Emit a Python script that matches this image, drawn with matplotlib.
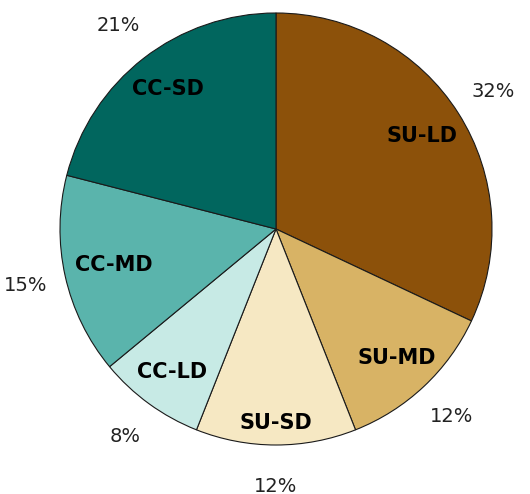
import numpy as np
import matplotlib
matplotlib.use("Agg")
import matplotlib.pyplot as plt

names = ["SU-LD", "SU-MD", "SU-SD", "CC-LD", "CC-MD", "CC-SD"]
shares = [32, 12, 12, 8, 15, 21]
colors = ["#8c510a", "#d8b365", "#f6e8c3", "#c7eae5", "#5ab4ac", "#01665e"]

fig = plt.figure(figsize=(5.3, 4.94), dpi=100)
# square box in pixels: centre ~ (276, 229) from top, radius ~216 px
ax = fig.add_axes([60 / 530, 49 / 494, 432 / 530, 432 / 494])

wedges, _ = ax.pie(shares, colors=colors, startangle=90, counterclock=False,
                   radius=1.0, center=(0, 0),
                   wedgeprops=dict(edgecolor="#1a1a1a", linewidth=0.8))
ax.set_xlim(-1, 1)
ax.set_ylim(-1, 1)
ax.set_aspect("auto")
ax.axis("off")

inner_r = {"SU-SD": 0.9, "CC-MD": 0.77, "SU-LD": 0.8}
for w, name, s in zip(wedges, names, shares):
    mid = np.deg2rad((w.theta1 + w.theta2) / 2)
    r = inner_r.get(name, 0.82)
    ax.text(r * np.cos(mid), r * np.sin(mid), name, ha="center", va="center",
            fontsize=15, fontweight="bold", color="black")
    ax.text(1.19 * np.cos(mid), 1.19 * np.sin(mid), f"{s}%", ha="center",
            va="center", fontsize=14, color="#222222")

fig.savefig("out.png", dpi=100)
